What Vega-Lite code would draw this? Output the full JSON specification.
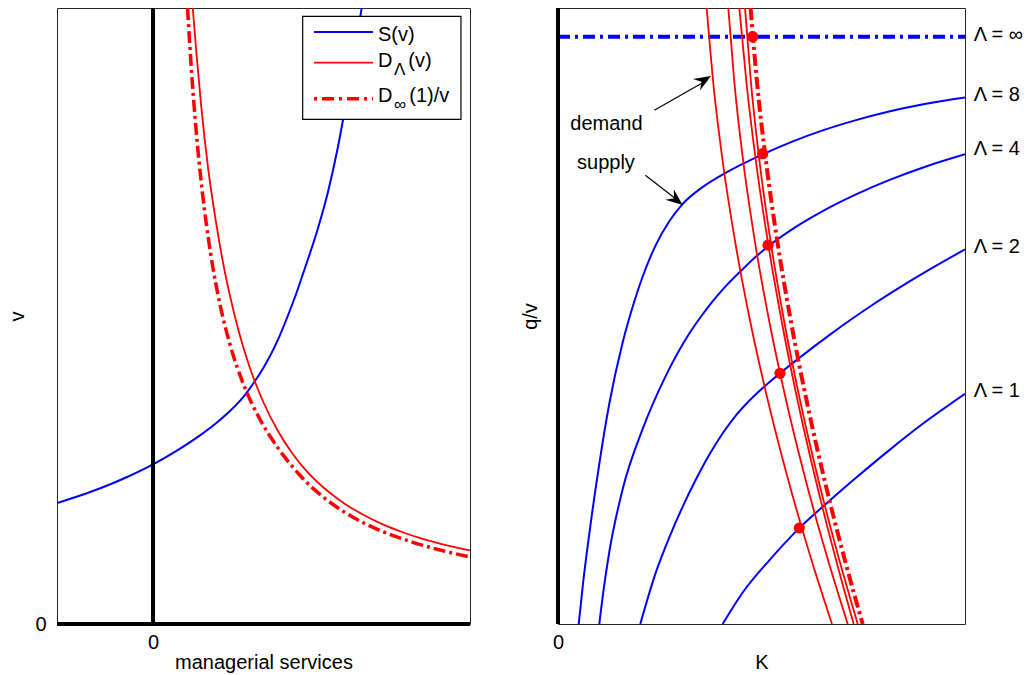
{
  "$schema": "https://vega.github.io/schema/vega-lite/v6.json",
  "background": "white",
  "padding": {"left": 7, "top": 5, "right": 0, "bottom": 0},
  "spacing": 88,
  "bounds": "flush",
  "config": {
    "view": {"stroke": "#262626", "strokeWidth": 1},
    "font": "Liberation Sans",
    "axis": {"domain": false, "ticks": false, "tickSize": 0, "grid": false, "labelFont": "Liberation Sans", "labelFontSize": 20, "labelColor": "black", "labelFlush": false, "titleFont": "Liberation Sans", "titleFontSize": 20, "titleFontWeight": "normal", "titleColor": "black"},
    "axisX": {"labelPadding": 8, "titlePadding": 0},
    "axisY": {"labelPadding": 11, "titlePadding": 7}
  },
  "datasets": {
    "leftCurves": [
      {"s": "S", "x": -1.0, "y": 1.964}, {"s": "S", "x": -0.75, "y": 2.091}, {"s": "S", "x": -0.542, "y": 2.208}, {"s": "S", "x": -0.281, "y": 2.378}, {"s": "S", "x": 0.0, "y": 2.591}, {"s": "S", "x": 0.240, "y": 2.807}, {"s": "S", "x": 0.5, "y": 3.075}, {"s": "S", "x": 0.656, "y": 3.260}, {"s": "S", "x": 0.8125, "y": 3.474}, {"s": "S", "x": 0.9375, "y": 3.679}, {"s": "S", "x": 1.052, "y": 3.920}, {"s": "S", "x": 1.146, "y": 4.148}, {"s": "S", "x": 1.229, "y": 4.381}, {"s": "S", "x": 1.3125, "y": 4.654}, {"s": "S", "x": 1.385, "y": 4.927}, {"s": "S", "x": 1.479, "y": 5.308}, {"s": "S", "x": 1.576, "y": 5.747}, {"s": "S", "x": 1.716, "y": 6.412}, {"s": "S", "x": 1.820, "y": 6.997}, {"s": "S", "x": 1.924, "y": 7.727}, {"s": "S", "x": 1.993, "y": 8.304}, {"s": "S", "x": 2.080, "y": 9.107}, {"s": "S", "x": 2.184, "y": 10.097},
      {"s": "D", "x": 0.414, "y": 10.0}, {"s": "D", "x": 0.45, "y": 9.31}, {"s": "D", "x": 0.5, "y": 8.44}, {"s": "D", "x": 0.575, "y": 7.39}, {"s": "D", "x": 0.65, "y": 6.585}, {"s": "D", "x": 0.725, "y": 5.903}, {"s": "D", "x": 0.8, "y": 5.338}, {"s": "D", "x": 0.9, "y": 4.711}, {"s": "D", "x": 1.0, "y": 4.2}, {"s": "D", "x": 1.15, "y": 3.6}, {"s": "D", "x": 1.3, "y": 3.138}, {"s": "D", "x": 1.45, "y": 2.772}, {"s": "D", "x": 1.6, "y": 2.481}, {"s": "D", "x": 1.8, "y": 2.183}, {"s": "D", "x": 2.0, "y": 1.95}, {"s": "D", "x": 2.2, "y": 1.766}, {"s": "D", "x": 2.4, "y": 1.6125}, {"s": "D", "x": 2.6, "y": 1.489}, {"s": "D", "x": 2.8, "y": 1.386}, {"s": "D", "x": 3.05, "y": 1.282}, {"s": "D", "x": 3.302, "y": 1.196},
      {"s": "Dinf", "x": 0.36, "y": 10.0}, {"s": "Dinf", "x": 0.40, "y": 9.0}, {"s": "Dinf", "x": 0.45, "y": 8.0}, {"s": "Dinf", "x": 0.515, "y": 7.0}, {"s": "Dinf", "x": 0.60, "y": 6.017}, {"s": "Dinf", "x": 0.70, "y": 5.171}, {"s": "Dinf", "x": 0.80, "y": 4.55}, {"s": "Dinf", "x": 0.95, "y": 3.863}, {"s": "Dinf", "x": 1.1, "y": 3.364}, {"s": "Dinf", "x": 1.3, "y": 2.862}, {"s": "Dinf", "x": 1.45, "y": 2.559}, {"s": "Dinf", "x": 1.6, "y": 2.3}, {"s": "Dinf", "x": 1.8, "y": 2.028}, {"s": "Dinf", "x": 2.0, "y": 1.81}, {"s": "Dinf", "x": 2.2, "y": 1.636}, {"s": "Dinf", "x": 2.4, "y": 1.496}, {"s": "Dinf", "x": 2.7, "y": 1.33}, {"s": "Dinf", "x": 3.0, "y": 1.197}, {"s": "Dinf", "x": 3.302, "y": 1.087}
    ],
    "leftRules": [{"x": 0, "y": 0, "x2": 0, "y2": 10}, {"x": -1, "y": 0, "x2": 3.302, "y2": 0}],
    "legendBox": [{"x": 1.559, "x2": 3.208, "y": 8.193, "y2": 9.865}],
    "legendLines": [
      {"s": "S", "x": 1.677, "x2": 2.292, "y": 9.610},
      {"s": "D", "x": 1.677, "x2": 2.292, "y": 9.112},
      {"s": "Dinf", "x": 1.677, "x2": 2.292, "y": 8.528}
    ],
    "legendText": [
      {"t": "S(v)", "x": 2.344, "y": 9.472},
      {"t": "D", "x": 2.344, "y": 9.042},
      {"t": "(v)", "x": 2.660, "y": 9.042},
      {"t": "D", "x": 2.344, "y": 8.474},
      {"t": "(1)/v", "x": 2.670, "y": 8.474}
    ],
    "legendSub": [
      {"t": "Λ", "x": 2.510, "y": 8.907},
      {"t": "∞", "x": 2.510, "y": 8.339}
    ],
    "supply": [
      {"lam": 8, "x": 0.509, "y": 0}, {"lam": 8, "x": 0.619, "y": 0.682}, {"lam": 8, "x": 0.769, "y": 1.464}, {"lam": 8, "x": 1.015, "y": 2.601}, {"lam": 8, "x": 1.260, "y": 3.575}, {"lam": 8, "x": 1.590, "y": 4.575}, {"lam": 8, "x": 1.892, "y": 5.273}, {"lam": 8, "x": 2.081, "y": 5.641}, {"lam": 8, "x": 2.408, "y": 6.159}, {"lam": 8, "x": 2.735, "y": 6.537}, {"lam": 8, "x": 3.064, "y": 6.820}, {"lam": 8, "x": 3.555, "y": 7.094}, {"lam": 8, "x": 4.128, "y": 7.328}, {"lam": 8, "x": 5.029, "y": 7.625}, {"lam": 8, "x": 5.725, "y": 7.823}, {"lam": 8, "x": 6.504, "y": 8.013}, {"lam": 8, "x": 7.322, "y": 8.180}, {"lam": 8, "x": 8.133, "y": 8.320}, {"lam": 8, "x": 9.042, "y": 8.446}, {"lam": 8, "x": 10.0, "y": 8.549},
      {"lam": 4, "x": 1.015, "y": 0}, {"lam": 4, "x": 1.130, "y": 0.601}, {"lam": 4, "x": 1.260, "y": 1.169}, {"lam": 4, "x": 1.590, "y": 2.192}, {"lam": 4, "x": 2.081, "y": 3.166}, {"lam": 4, "x": 2.654, "y": 4.036}, {"lam": 4, "x": 3.226, "y": 4.716}, {"lam": 4, "x": 3.514, "y": 4.992}, {"lam": 4, "x": 3.808, "y": 5.245}, {"lam": 4, "x": 4.128, "y": 5.489}, {"lam": 4, "x": 4.538, "y": 5.760}, {"lam": 4, "x": 4.865, "y": 5.964}, {"lam": 4, "x": 5.160, "y": 6.130}, {"lam": 4, "x": 5.676, "y": 6.375}, {"lam": 4, "x": 6.504, "y": 6.703}, {"lam": 4, "x": 7.322, "y": 6.974}, {"lam": 4, "x": 8.133, "y": 7.205}, {"lam": 4, "x": 9.042, "y": 7.427}, {"lam": 4, "x": 10.0, "y": 7.625},
      {"lam": 2, "x": 2.022, "y": 0}, {"lam": 2, "x": 2.408, "y": 0.846}, {"lam": 2, "x": 2.727, "y": 1.394}, {"lam": 2, "x": 3.064, "y": 1.906}, {"lam": 2, "x": 3.391, "y": 2.349}, {"lam": 2, "x": 3.717, "y": 2.748}, {"lam": 2, "x": 4.047, "y": 3.096}, {"lam": 2, "x": 4.373, "y": 3.388}, {"lam": 2, "x": 4.693, "y": 3.620}, {"lam": 2, "x": 5.029, "y": 3.831}, {"lam": 2, "x": 5.455, "y": 4.070}, {"lam": 2, "x": 5.929, "y": 4.320}, {"lam": 2, "x": 6.666, "y": 4.690}, {"lam": 2, "x": 7.199, "y": 4.943}, {"lam": 2, "x": 7.740, "y": 5.187}, {"lam": 2, "x": 8.428, "y": 5.477}, {"lam": 2, "x": 9.165, "y": 5.769}, {"lam": 2, "x": 10.0, "y": 6.081},
      {"lam": 1, "x": 4.047, "y": 0}, {"lam": 1, "x": 4.538, "y": 0.511}, {"lam": 1, "x": 5.192, "y": 1.034}, {"lam": 1, "x": 5.929, "y": 1.557}, {"lam": 1, "x": 6.504, "y": 1.903}, {"lam": 1, "x": 7.322, "y": 2.373}, {"lam": 1, "x": 8.140, "y": 2.823}, {"lam": 1, "x": 8.961, "y": 3.250}, {"lam": 1, "x": 10.0, "y": 3.738}
    ],
    "supplyInf": [{"x": 0, "y": 9.534}, {"x": 10, "y": 9.534}],
    "demand": [
      {"lam": "1", "x": 3.654, "y": 10.0}, {"lam": "1", "x": 3.813, "y": 8.799}, {"lam": "1", "x": 4.049, "y": 7.500}, {"lam": "1", "x": 4.354, "y": 6.201}, {"lam": "1", "x": 4.725, "y": 4.903}, {"lam": "1", "x": 5.165, "y": 3.604}, {"lam": "1", "x": 5.671, "y": 2.305}, {"lam": "1", "x": 6.243, "y": 1.006}, {"lam": "1", "x": 6.732, "y": 0.0},
      {"lam": "2", "x": 4.184, "y": 10.0}, {"lam": "2", "x": 4.332, "y": 8.799}, {"lam": "2", "x": 4.553, "y": 7.500}, {"lam": "2", "x": 4.840, "y": 6.201}, {"lam": "2", "x": 5.194, "y": 4.903}, {"lam": "2", "x": 5.614, "y": 3.604}, {"lam": "2", "x": 6.098, "y": 2.305}, {"lam": "2", "x": 6.649, "y": 1.006}, {"lam": "2", "x": 7.118, "y": 0.0},
      {"lam": "4", "x": 4.455, "y": 10.0}, {"lam": "4", "x": 4.629, "y": 8.799}, {"lam": "4", "x": 4.865, "y": 7.500}, {"lam": "4", "x": 5.157, "y": 6.201}, {"lam": "4", "x": 5.499, "y": 4.903}, {"lam": "4", "x": 5.894, "y": 3.604}, {"lam": "4", "x": 6.344, "y": 2.305}, {"lam": "4", "x": 6.845, "y": 1.006}, {"lam": "4", "x": 7.265, "y": 0.0},
      {"lam": "8", "x": 4.595, "y": 10.0}, {"lam": "8", "x": 4.740, "y": 8.799}, {"lam": "8", "x": 4.953, "y": 7.500}, {"lam": "8", "x": 5.226, "y": 6.201}, {"lam": "8", "x": 5.560, "y": 4.903}, {"lam": "8", "x": 5.956, "y": 3.604}, {"lam": "8", "x": 6.410, "y": 2.305}, {"lam": "8", "x": 6.926, "y": 1.006}, {"lam": "8", "x": 7.364, "y": 0.0},
      {"lam": "inf", "x": 4.732, "y": 10.0}, {"lam": "inf", "x": 4.889, "y": 8.799}, {"lam": "inf", "x": 5.113, "y": 7.500}, {"lam": "inf", "x": 5.391, "y": 6.201}, {"lam": "inf", "x": 5.725, "y": 4.903}, {"lam": "inf", "x": 6.115, "y": 3.604}, {"lam": "inf", "x": 6.560, "y": 2.305}, {"lam": "inf", "x": 7.061, "y": 1.006}, {"lam": "inf", "x": 7.486, "y": 0.0}
    ],
    "rightRule": [{"x": 0, "y": 0, "y2": 10}],
    "dots": [{"x": 4.784, "y": 9.534}, {"x": 5.029, "y": 7.635}, {"x": 5.160, "y": 6.150}, {"x": 5.455, "y": 4.070}, {"x": 5.929, "y": 1.558}],
    "shafts": [{"a": "demand", "x": 2.366, "y": 8.339, "x2": 3.64, "y2": 8.82}, {"a": "supply", "x": 2.145, "y": 7.284, "x2": 2.98, "y2": 6.86}],
    "headDemand": [{"x": 3.759, "y": 8.896}],
    "headSupply": [{"x": 3.064, "y": 6.80}],
    "annText": [{"t": "demand", "x": 0.302, "y": 8.024}, {"t": "supply", "x": 0.467, "y": 7.381}],
    "lamLabels": [
      {"t": "Λ = ∞", "x": 10.214, "y": 9.562},
      {"t": "Λ = 8", "x": 10.214, "y": 8.588},
      {"t": "Λ = 4", "x": 10.214, "y": 7.711},
      {"t": "Λ = 2", "x": 10.214, "y": 6.120},
      {"t": "Λ = 1", "x": 10.214, "y": 3.782}
    ]
  },
  "hconcat": [
    {
      "width": 413,
      "height": 616,
      "encoding": {
        "x": {"field": "x", "type": "quantitative", "scale": {"domain": [-1, 3.302], "nice": false, "zero": false}, "axis": {"values": [0], "format": "d", "title": "managerial services"}},
        "y": {"field": "y", "type": "quantitative", "scale": {"domain": [0, 10], "nice": false, "zero": false}, "axis": {"values": [0], "format": "d", "title": "v"}}
      },
      "layer": [
        {"data": {"name": "leftCurves"}, "transform": [{"filter": "datum.s === 'S'"}], "mark": {"type": "line", "color": "#0000ff", "strokeWidth": 2, "clip": true, "interpolate": "monotone"}},
        {"data": {"name": "leftCurves"}, "transform": [{"filter": "datum.s === 'D'"}], "mark": {"type": "line", "color": "#ff0000", "strokeWidth": 1.8, "clip": true, "interpolate": "monotone"}},
        {"data": {"name": "leftCurves"}, "transform": [{"filter": "datum.s === 'Dinf'"}], "mark": {"type": "line", "color": "#ff0000", "strokeWidth": 3.5, "strokeDash": [12, 4, 3, 4], "clip": true, "interpolate": "monotone"}},
        {"data": {"name": "leftRules"}, "mark": {"type": "rule", "color": "black", "strokeWidth": 4}, "encoding": {"x2": {"field": "x2"}, "y2": {"field": "y2"}}},
        {"data": {"name": "legendBox"}, "mark": {"type": "rect", "fill": "white", "stroke": "black", "strokeWidth": 1.2}, "encoding": {"x2": {"field": "x2"}, "y2": {"field": "y2"}}},
        {"data": {"name": "legendLines"}, "transform": [{"filter": "datum.s === 'S'"}], "mark": {"type": "rule", "color": "#0000ff", "strokeWidth": 2}, "encoding": {"x2": {"field": "x2"}}},
        {"data": {"name": "legendLines"}, "transform": [{"filter": "datum.s === 'D'"}], "mark": {"type": "rule", "color": "#ff0000", "strokeWidth": 1.8}, "encoding": {"x2": {"field": "x2"}}},
        {"data": {"name": "legendLines"}, "transform": [{"filter": "datum.s === 'Dinf'"}], "mark": {"type": "rule", "color": "#ff0000", "strokeWidth": 3.5, "strokeDash": [3, 5, 12, 5]}, "encoding": {"x2": {"field": "x2"}}},
        {"data": {"name": "legendText"}, "mark": {"type": "text", "align": "left", "baseline": "alphabetic", "fontSize": 20, "font": "Liberation Sans", "color": "black"}, "encoding": {"text": {"field": "t"}}},
        {"data": {"name": "legendSub"}, "mark": {"type": "text", "align": "left", "baseline": "alphabetic", "fontSize": 17, "font": "Liberation Sans", "color": "black"}, "encoding": {"text": {"field": "t"}}}
      ]
    },
    {
      "width": 407,
      "height": 616,
      "encoding": {
        "x": {"field": "x", "type": "quantitative", "scale": {"domain": [0, 10], "nice": false, "zero": false}, "axis": {"values": [0], "format": "d", "title": "K"}},
        "y": {"field": "y", "type": "quantitative", "scale": {"domain": [0, 10], "nice": false, "zero": false}, "axis": {"labels": false, "title": "q/v", "titlePadding": 18}}
      },
      "layer": [
        {"data": {"name": "supply"}, "mark": {"type": "line", "color": "#0000ff", "strokeWidth": 2, "clip": true, "interpolate": "monotone"}, "encoding": {"detail": {"field": "lam", "type": "nominal"}}},
        {"data": {"name": "supplyInf"}, "mark": {"type": "line", "color": "#0000ff", "strokeWidth": 4, "strokeDash": [12, 5, 3, 5], "clip": true}},
        {"data": {"name": "demand"}, "transform": [{"filter": "datum.lam !== 'inf'"}], "mark": {"type": "line", "color": "#ff0000", "strokeWidth": 1.8, "clip": true, "interpolate": "monotone"}, "encoding": {"detail": {"field": "lam", "type": "nominal"}}},
        {"data": {"name": "demand"}, "transform": [{"filter": "datum.lam === 'inf'"}], "mark": {"type": "line", "color": "#ff0000", "strokeWidth": 4, "strokeDash": [12, 4, 3, 4], "clip": true, "interpolate": "monotone"}},
        {"data": {"name": "rightRule"}, "mark": {"type": "rule", "color": "black", "strokeWidth": 4}, "encoding": {"y2": {"field": "y2"}}},
        {"data": {"name": "dots"}, "mark": {"type": "point", "filled": true, "color": "#ff0000", "opacity": 1, "size": 125, "shape": "circle"}},
        {"data": {"name": "shafts"}, "mark": {"type": "rule", "color": "black", "strokeWidth": 1.2}, "encoding": {"x2": {"field": "x2"}, "y2": {"field": "y2"}}},
        {"data": {"name": "headDemand"}, "mark": {"type": "point", "filled": true, "color": "black", "opacity": 1, "size": 1150, "shape": "M0,0 L-1,-0.4 L-0.65,0 L-1,0.4 Z", "angle": 328.8}},
        {"data": {"name": "headSupply"}, "mark": {"type": "point", "filled": true, "color": "black", "opacity": 1, "size": 1150, "shape": "M0,0 L-1,-0.4 L-0.65,0 L-1,0.4 Z", "angle": 38.7}},
        {"data": {"name": "annText"}, "mark": {"type": "text", "align": "left", "baseline": "alphabetic", "fontSize": 20, "font": "Liberation Sans", "color": "black"}, "encoding": {"text": {"field": "t"}}},
        {"data": {"name": "lamLabels"}, "mark": {"type": "text", "align": "left", "baseline": "middle", "fontSize": 20, "font": "Liberation Sans", "color": "black"}, "encoding": {"text": {"field": "t"}}}
      ]
    }
  ]
}
